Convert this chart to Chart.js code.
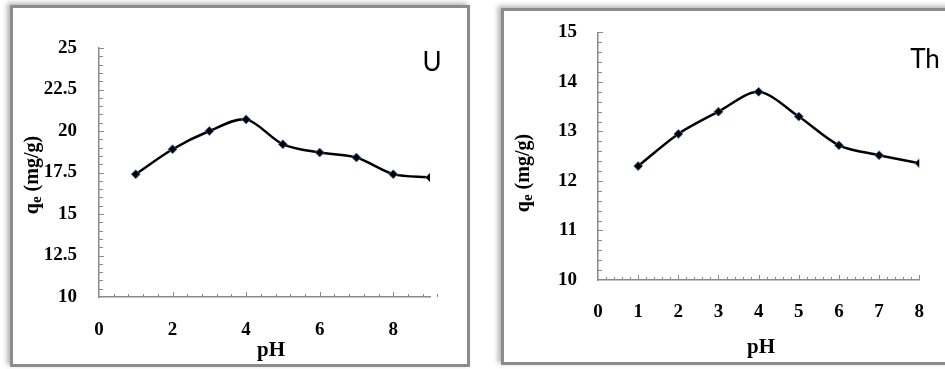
<!DOCTYPE html>
<html>
<head>
<meta charset="utf-8">
<script src="https://cdn.jsdelivr.net/npm/chart.js@4.4.0/dist/chart.umd.min.js"></script>
<style>
  body { margin: 0; width: 945px; height: 369px; background: #fff; overflow: hidden; position: relative; }
  .frame { position: absolute; box-sizing: border-box; border: 3px solid #8c8c8c; box-shadow: -3px -2px 5px rgba(0,0,0,0.3); background: #fff; }
  .box { position: absolute; top: 0; width: 470px; height: 369px; }
</style>
</head>
<body>
<div class="frame" style="left:10px;top:5px;width:460px;height:362px"></div>
<div class="frame" style="left:501px;top:8px;width:470px;height:357px"></div>
<div class="box" style="left:0"><canvas id="chartU"></canvas></div>
<div class="box" style="left:475px"><canvas id="chartTh"></canvas></div>

<script>
// uranium panel
const phU = [1, 2, 3, 4, 5, 6, 7, 8, 9];
const qeU = [17.4, 18.9, 20.0, 20.7, 19.2, 18.7, 18.4, 17.4, 17.2];
const xTicksU = [0, 2, 4, 6, 8];
const yTicksU = [10, 12.5, 15, 17.5, 20, 22.5, 25];

// thorium panel
const phTh = [1, 2, 3, 4, 5, 6, 7, 8];
const qeTh = [12.3, 12.95, 13.4, 13.8, 13.3, 12.72, 12.52, 12.36];
const xTicksTh = [0, 1, 2, 3, 4, 5, 6, 7, 8];
const yTicksTh = [10, 11, 12, 13, 14, 15];

const serif = "'Liberation Serif', 'Times New Roman', serif";
const axisGray = '#8a8a8a';

// little tick marks pointing into the plot, like the excel original
const minorTicks = {
    id: 'minorTicks',
    afterDraw(chart, args, opts) {
        const ctx = chart.ctx;
        const xs = chart.scales.x, ys = chart.scales.y;
        const area = chart.chartArea;
        ctx.save();
        ctx.strokeStyle = axisGray;
        ctx.lineWidth = 1;
        ctx.beginPath();
        const nx = Math.round((xs.max - xs.min) / opts.xStep);
        for (let i = 1; i <= nx; i++) {
            const v = xs.min + i * opts.xStep;
            const major = Math.abs(v / opts.xMajor - Math.round(v / opts.xMajor)) < 1e-6;
            const px = Math.round(xs.getPixelForValue(v)) + 0.5;
            ctx.moveTo(px, area.bottom);
            ctx.lineTo(px, area.bottom - (major ? 5 : 3));
        }
        const ny = Math.round((ys.max - ys.min) / opts.yStep);
        for (let i = 1; i <= ny; i++) {
            const v = ys.min + i * opts.yStep;
            const major = Math.abs(v / opts.yMajor - Math.round(v / opts.yMajor)) < 1e-6;
            const py = Math.round(ys.getPixelForValue(v)) + 0.5;
            ctx.moveTo(area.left, py);
            ctx.lineTo(area.left + (major ? 5 : 4), py);
        }
        ctx.stroke();
        ctx.restore();
    }
};

// axis titles and the element label
const panelText = {
    id: 'panelText',
    afterDraw(chart, args, opts) {
        const ctx = chart.ctx;
        const a = chart.chartArea;
        ctx.save();
        ctx.fillStyle = '#000';
        ctx.textBaseline = 'middle';
        ctx.textAlign = 'center';

        ctx.font = "bold 21px " + serif;
        ctx.fillText('pH', a.left + opts.xTitle[0], a.bottom + opts.xTitle[1]);

        ctx.font = "26px Lato, 'Open Sans', sans-serif";
        ctx.fillText(opts.label, opts.labelPos[0], opts.labelPos[1]);

        // q with subscript e, rotated
        ctx.translate(a.left + opts.yTitle[0], opts.yTitle[1]);
        ctx.rotate(-Math.PI / 2);
        ctx.textAlign = 'left';
        ctx.textBaseline = 'alphabetic';
        const big = "bold 20px " + serif, small = "bold 15px " + serif;
        ctx.font = big; const wq = ctx.measureText('q').width;
        ctx.font = small; const we = ctx.measureText('e').width;
        ctx.font = big; const wr = ctx.measureText(' (mg/g)').width;
        let x = -(wq + we + wr) / 2;
        ctx.font = big; ctx.fillText('q', x, 6); x += wq;
        ctx.font = small; ctx.fillText('e', x, 9); x += we;
        ctx.font = big; ctx.fillText(' (mg/g)', x, 6);
        ctx.restore();
    }
};

function makeChart(id, xs, ys, xTicks, yTicks, cfg) {
    return new Chart(document.getElementById(id), {
        type: 'line',
        data: {
            datasets: [{
                data: xs.map((x, i) => ({ x: x, y: ys[i] })),
                borderColor: '#000',
                borderWidth: 2.5,
                tension: 0.3,
                pointStyle: 'rectRot',
                pointRadius: 4.5,
                pointBackgroundColor: '#000',
                pointBorderColor: 'rgba(70,120,210,0.75)',
                pointBorderWidth: 1
            }]
        },
        options: {
            responsive: true,
            maintainAspectRatio: false,
            animation: false,
            layout: { padding: cfg.padding },
            plugins: {
                legend: { display: false },
                tooltip: { enabled: false },
                minorTicks: cfg.minor,
                panelText: cfg.text
            },
            scales: {
                x: {
                    type: 'linear',
                    min: xTicks[0],
                    max: cfg.xMax,
                    afterBuildTicks: s => { s.ticks = xTicks.map(v => ({ value: v })); },
                    afterFit: s => { s.height = cfg.xHeight; },
                    grid: { display: false, drawTicks: false },
                    border: { display: true, color: axisGray, width: 1.5 },
                    ticks: { color: '#000', padding: cfg.xPad, maxRotation: 0, font: { family: serif, size: 19, weight: 'bold' } }
                },
                y: {
                    min: yTicks[0],
                    max: yTicks[yTicks.length - 1],
                    afterBuildTicks: s => { s.ticks = yTicks.map(v => ({ value: v })); },
                    afterFit: s => { s.width = cfg.yWidth; },
                    grid: { display: false, drawTicks: false },
                    border: { display: true, color: axisGray, width: 1.5 },
                    ticks: { color: '#000', padding: cfg.yPad, font: { family: serif, size: 19, weight: 'bold' } }
                }
            }
        },
        plugins: [minorTicks, panelText]
    });
}

makeChart('chartU', phU, qeU, xTicksU, yTicksU, {
    padding: { top: 48, right: 40, left: 0, bottom: 0 },
    xMax: 9, xHeight: 72, yWidth: 99, xPad: 22, yPad: 22,
    minor: { xStep: 0.4, xMajor: 2, yStep: 0.5, yMajor: 2.5 },
    text: { label: 'U', labelPos: [432, 63], xTitle: [172, 54], yTitle: [-67, 175] }
});

makeChart('chartTh', phTh, qeTh, xTicksTh, yTicksTh, {
    padding: { top: 21, right: 9, left: 0, bottom: 0 },
    xMax: 8, xHeight: 89, yWidth: 123, xPad: 21, yPad: 21,
    minor: { xStep: 0.2, xMajor: 1, yStep: 0.2, yMajor: 1 },
    text: { label: 'Th', labelPos: [450, 60], xTitle: [163, 68], yTitle: [-75, 173] }
});
</script>
</body>
</html>
